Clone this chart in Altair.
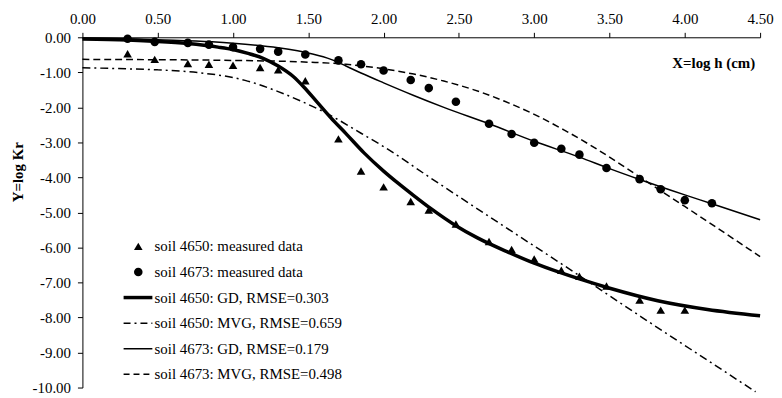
import altair as alt
import pandas as pd

FONT = "Liberation Serif"

# ---- measured data ----
x_4650 = [0.30, 0.48, 0.70, 0.84, 1.00, 1.18, 1.30, 1.48, 1.70, 1.85, 2.00, 2.18, 2.30, 2.48,
          2.70, 2.85, 3.00, 3.18, 3.30, 3.48, 3.70, 3.84, 4.00]
y_4650 = [-0.47, -0.63, -0.75, -0.77, -0.80, -0.86, -0.93, -1.24, -2.90, -3.82, -4.27, -4.69, -4.93, -5.33,
          -5.83, -6.06, -6.33, -6.65, -6.82, -7.10, -7.50, -7.79, -7.79]
x_4673 = [0.30, 0.48, 0.70, 0.84, 1.00, 1.18, 1.30, 1.48, 1.70, 1.85, 2.00, 2.18, 2.30, 2.48,
          2.70, 2.85, 3.00, 3.18, 3.30, 3.48, 3.70, 3.84, 4.00, 4.18]
y_4673 = [-0.04, -0.13, -0.16, -0.21, -0.28, -0.33, -0.41, -0.49, -0.66, -0.77, -0.95, -1.22, -1.45, -1.84,
          -2.47, -2.76, -3.01, -3.18, -3.35, -3.73, -4.05, -4.34, -4.65, -4.74]

# ---- fitted curves ----
gd4650_x = [0.00, 0.30, 0.50, 0.70, 0.90, 1.00, 1.10, 1.20, 1.30, 1.40, 1.47, 1.56, 1.65, 1.75, 1.87,
            2.00, 2.10, 2.20, 2.31, 2.48, 2.62, 2.83, 3.00, 3.16, 3.30, 3.49, 3.82, 4.15, 4.50]
gd4650_y = [-0.05, -0.08, -0.12, -0.18, -0.28, -0.35, -0.46, -0.60, -0.82, -1.12, -1.42, -1.86, -2.30, -2.75, -3.30,
            -3.82, -4.18, -4.52, -4.88, -5.38, -5.72, -6.14, -6.45, -6.70, -6.90, -7.15, -7.52, -7.77, -7.95]

mvg4650_x = [0.00, 0.30, 0.50, 0.77, 1.00, 1.08, 1.30, 1.45, 1.63, 1.85, 2.00, 2.31, 2.79, 3.27, 3.71, 4.15, 4.47]
mvg4650_y = [-0.87, -0.90, -0.93, -1.01, -1.15, -1.23, -1.55, -1.82, -2.19, -2.74, -3.12, -4.01, -5.37, -6.72,
             -7.98, -9.22, -10.12]

gd4673_x = [0.00, 0.30, 0.50, 0.86, 1.00, 1.30, 1.52, 1.65, 1.75, 1.85, 2.00, 2.20, 2.40, 2.70, 3.00, 3.30,
            3.50, 3.70, 4.00, 4.17, 4.50]
gd4673_y = [-0.02, -0.04, -0.07, -0.13, -0.17, -0.30, -0.47, -0.63, -0.82, -1.02, -1.30, -1.66, -2.00, -2.47,
            -2.97, -3.42, -3.75, -4.06, -4.50, -4.74, -5.21]

mvg4673_x = [0.00, 0.50, 1.00, 1.50, 1.75, 2.00, 2.20, 2.40, 2.60, 2.80, 3.00, 3.20, 3.40, 3.60, 3.80, 4.00,
             4.20, 4.50]
mvg4673_y = [-0.63, -0.64, -0.66, -0.71, -0.77, -0.90, -1.05, -1.25, -1.50, -1.82, -2.20, -2.65, -3.15, -3.70,
             -4.27, -4.83, -5.40, -6.26]

x_ticks = [0.0, 0.5, 1.0, 1.5, 2.0, 2.5, 3.0, 3.5, 4.0, 4.5]
y_ticks = [0, -1, -2, -3, -4, -5, -6, -7, -8, -9, -10]

legend_labels = [
    "soil 4650: measured data",
    "soil 4673: measured data",
    "soil 4650: GD, RMSE=0.303",
    "soil 4650: MVG, RMSE=0.659",
    "soil 4673: GD, RMSE=0.179",
    "soil 4673: MVG, RMSE=0.498",
]

W, H = 683, 353

X = alt.X("x:Q", scale=alt.Scale(domain=[0, 4.5], nice=False, zero=False),
          axis=alt.Axis(orient="top", values=x_ticks, format=".2f", grid=False, title=None,
                        tickSize=5, tickColor="black", domainColor="black", labelColor="black",
                        labelFont=FONT, labelFontSize=15, labelPadding=6, labelFlush=False))
Y = alt.Y("y:Q", scale=alt.Scale(domain=[-10, 0], nice=False, zero=False),
          axis=alt.Axis(orient="left", values=y_ticks, grid=False, title=None,
                        labelExpr="datum.value < 0 ? '-' + format(-datum.value, '.2f') : format(datum.value, '.2f')",
                        tickSize=5, tickColor="black", domainColor="black", labelColor="black",
                        labelFont=FONT, labelFontSize=15, labelPadding=7))


def curve(xs, ys, **kw):
    df = pd.DataFrame({"x": xs, "y": ys})
    return alt.Chart(df).mark_line(color="black", interpolate="monotone", **kw).encode(x=X, y=Y)


lines = [
    curve(gd4650_x, gd4650_y, strokeWidth=3.5),
    curve(mvg4650_x, mvg4650_y, strokeWidth=1.5, strokeDash=[8, 4, 2, 4]),
    curve(gd4673_x, gd4673_y, strokeWidth=1.5),
    curve(mvg4673_x, mvg4673_y, strokeWidth=1.5, strokeDash=[7, 4]),
]

pts_a = alt.Chart(pd.DataFrame({"x": x_4650, "y": y_4650})).mark_point(
    shape="triangle-up", filled=True, color="black", opacity=1, size=75).encode(x=X, y=Y)
pts_b = alt.Chart(pd.DataFrame({"x": x_4673, "y": y_4673})).mark_point(
    shape="circle", filled=True, color="black", opacity=1, size=75).encode(x=X, y=Y)

# ---- legend (drawn by hand, inside plot area) ----
row_y = [210.7 + 25.8 * i for i in range(6)]
sym_x = 56.3
line_x0, line_x1 = 41.5, 70.5
text_x = 72.7

leg = []
for i, lab in enumerate(legend_labels):
    d = pd.DataFrame({"label": [lab]})
    leg.append(alt.Chart(d).mark_text(align="left", baseline="middle", font=FONT, fontSize=15,
                                      color="black").encode(
        x=alt.value(text_x), y=alt.value(row_y[i]), text="label:N"))

one = pd.DataFrame({"k": [0]})
leg.append(alt.Chart(one).mark_point(shape="triangle-up", filled=True, color="black", opacity=1,
                                     size=75).encode(x=alt.value(sym_x), y=alt.value(row_y[0])))
leg.append(alt.Chart(one).mark_point(shape="circle", filled=True, color="black", opacity=1,
                                     size=75).encode(x=alt.value(sym_x), y=alt.value(row_y[1])))
leg_styles = [dict(strokeWidth=3.5), dict(strokeWidth=1.5, strokeDash=[7, 4, 2, 4]),
              dict(strokeWidth=1.5), dict(strokeWidth=1.5, strokeDash=[6, 4])]
for j, st in enumerate(leg_styles):
    leg.append(alt.Chart(one).mark_rule(color="black", **st).encode(
        x=alt.value(line_x0), x2=alt.value(line_x1), y=alt.value(row_y[2 + j])))

titles = pd.DataFrame({"xt": ["X=log h (cm)"], "yt": ["Y=log  Kr"]})
xtitle = alt.Chart(titles).mark_text(align="right", baseline="middle", font=FONT, fontSize=15,
                                     fontWeight="bold", color="black").encode(
    x=alt.value(678), y=alt.value(25.7), text="xt:N")
ytitle = alt.Chart(titles).mark_text(align="center", baseline="middle", font=FONT, fontSize=15,
                                     fontWeight="bold", color="black", angle=270).encode(
    x=alt.value(-65), y=alt.value(136), text="yt:N")

chart = alt.layer(*lines, pts_a, pts_b, *leg, xtitle, ytitle).properties(
    width=W, height=H,
    autosize=alt.AutoSizeParams(type="none"),
    padding={"left": 75, "top": 28, "right": 14, "bottom": 8},
).configure_view(stroke=None).configure_axis(domainWidth=1, tickWidth=1)

chart.save("out.html", embed_options={"renderer": "svg", "actions": False})
